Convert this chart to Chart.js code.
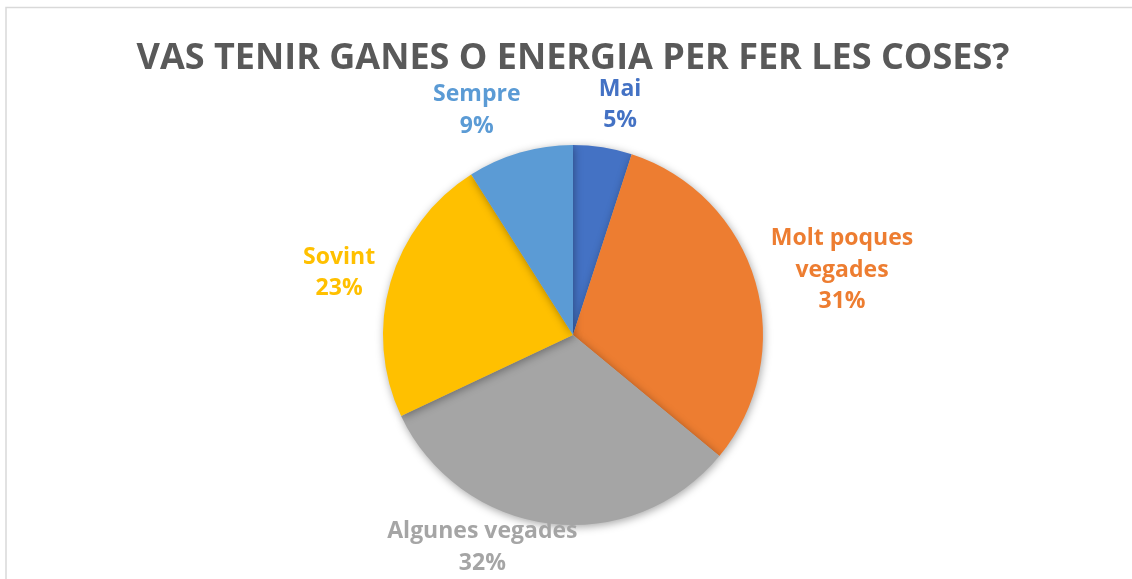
<!DOCTYPE html>
<html>
<head>
<meta charset="utf-8">
<script src="https://cdn.jsdelivr.net/npm/chart.js@4"></script>
<style>
  html, body { margin: 0; padding: 0; background: #fff; }
  #wrap { width: 1132px; height: 579px; position: relative; }
</style>
</head>
<body>
<div id="wrap"><canvas id="pie-chart"></canvas></div>
<script>
'use strict';

// Chart data
const chartTitle = 'VAS TENIR GANES O ENERGIA PER FER LES COSES?';
const categories = ['Mai', 'Molt poques vegades', 'Algunes vegades', 'Sovint', 'Sempre'];
const percentages = [5, 31, 32, 23, 9];
const labelLines = [['Mai'], ['Molt poques', 'vegades'], ['Algunes vegades'], ['Sovint'], ['Sempre']];
const sliceColors = ['#4472C4', '#ED7D31', '#A5A5A5', '#FFC000', '#5B9BD5'];

const labelFont = 'bold 23px "Open Sans"';
const lineHeight = 31.5;

// soft shadow under the pie, like the office chart
const shadowPlugin = {
  id: 'pieShadow',
  beforeDatasetsDraw(chart) {
    const ctx = chart.ctx;
    ctx.save();
    ctx.shadowColor = 'rgba(0,0,0,0.35)';
    ctx.shadowBlur = 9;
    ctx.shadowOffsetX = 1;
    ctx.shadowOffsetY = 2;
  },
  afterDatasetsDraw(chart) {
    chart.ctx.restore();
  }
};

// outer frame (only top and left edges are visible in the picture)
const framePlugin = {
  id: 'frame',
  beforeDraw(chart) {
    const ctx = chart.ctx;
    ctx.save();
    ctx.strokeStyle = '#d9d9d9';
    ctx.lineWidth = 1.5;
    ctx.strokeRect(6, 7.5, chart.width + 20, chart.height + 20);
    ctx.restore();
  }
};

// category name + percentage outside each slice (rough "best fit")
const outsideLabels = {
  id: 'outsideLabels',
  afterDatasetsDraw(chart) {
    const ctx = chart.ctx;
    const meta = chart.getDatasetMeta(0);
    ctx.save();
    ctx.font = labelFont;
    ctx.textAlign = 'center';
    ctx.textBaseline = 'middle';
    meta.data.forEach((arc, i) => {
      const lines = labelLines[i].concat([percentages[i] + '%']);
      const w = Math.max(...lines.map(l => ctx.measureText(l).width));
      const h = lines.length * lineHeight;
      const mid = (arc.startAngle + arc.endAngle) / 2;
      const c = Math.cos(mid), s = Math.sin(mid);
      let x, y;
      if (Math.abs(s) >= Math.abs(c)) {
        // above / below the pie: hang the box off its inner corner
        const d = arc.outerRadius + 11;
        const k = Math.min(1, 0.5 + Math.abs(c) * 1.5);
        x = arc.x + c * d + Math.sign(c) * k * w / 2;
        y = arc.y + s * d + Math.sign(s) * h / 2;
      } else {
        // left / right of the pie
        const d = arc.outerRadius + 16;
        x = arc.x + c * d + Math.sign(c) * w / 2;
        y = arc.y + s * d + Math.sign(s) * h / 2 * 0.15;
      }
      y = Math.min(y, chart.height - h / 2);
      y = Math.max(y, h / 2);
      ctx.fillStyle = sliceColors[i];
      lines.forEach((l, k) => {
        ctx.fillText(l, x, y - h / 2 + lineHeight * (k + 0.5));
      });
    });
    ctx.restore();
  }
};

const ctx = document.getElementById('pie-chart').getContext('2d');
const chart = new Chart(ctx, {
  type: 'pie',
  data: {
    labels: categories,
    datasets: [{
      data: percentages,
      backgroundColor: sliceColors,
      borderColor: '#ffffff',
      borderWidth: 0
    }]
  },
  options: {
    responsive: true,
    maintainAspectRatio: false,
    animation: false,
    layout: {
      padding: { top: 0, bottom: 54, left: 20, right: 6 }
    },
    plugins: {
      legend: { display: false },
      tooltip: { enabled: false },
      title: {
        display: true,
        text: chartTitle,
        color: '#595959',
        font: { family: '"Open Sans"', size: 36, weight: 'bold', lineHeight: 1.2 },
        padding: { top: 37, bottom: 64.8 }
      }
    }
  },
  plugins: [framePlugin, shadowPlugin, outsideLabels]
});
</script>
</body>
</html>
